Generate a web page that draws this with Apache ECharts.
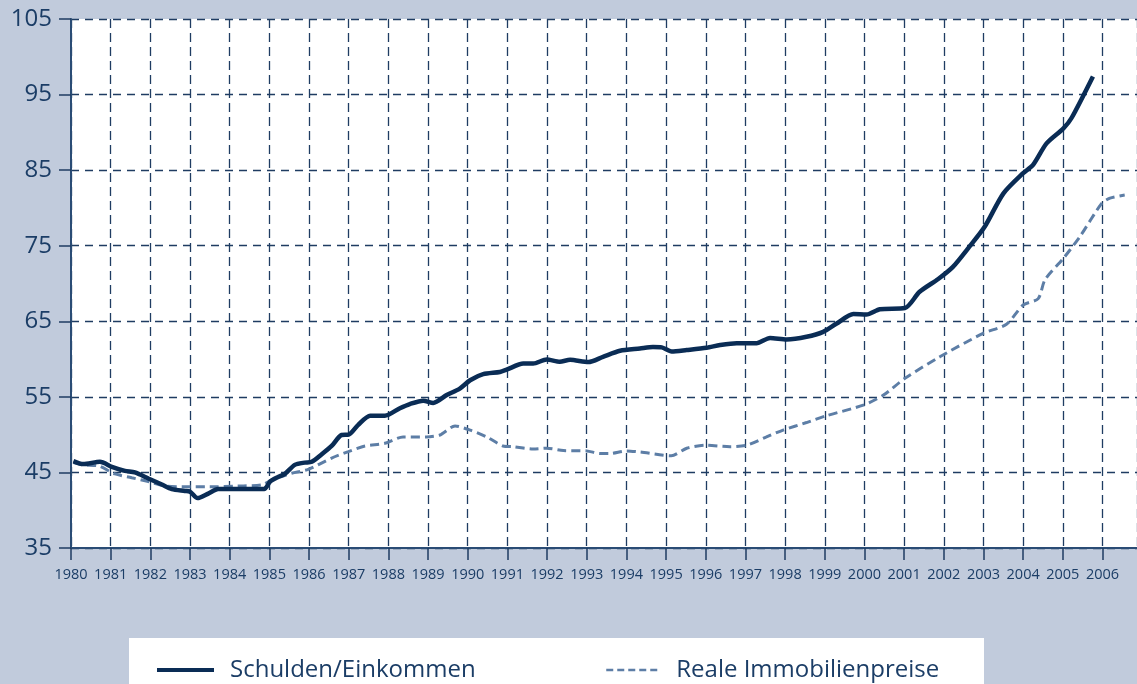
<!DOCTYPE html>
<html>
<head>
<meta charset="utf-8">
<script src="https://cdn.jsdelivr.net/npm/echarts@6/dist/echarts.min.js"></script>
<style>
html, body { margin: 0; padding: 0; background: #c1cbdc; }
#chart { width: 1137px; height: 684px; }
</style>
</head>
<body>
<div id="chart"></div>
<script>
// Schulden/Einkommen
var debtYears = [1980.06, 1980.31, 1980.73, 1981.03, 1981.36, 1981.61, 1981.95, 1982.29, 1982.54, 1982.87,
	1983.0, 1983.19, 1983.46, 1983.71, 1984.05, 1984.55, 1984.87, 1985.02, 1985.22, 1985.39,
	1985.64, 1985.89, 1986.07, 1986.32, 1986.57, 1986.82, 1987.0, 1987.24, 1987.54, 1987.91,
	1988.29, 1988.54, 1988.88, 1989.13, 1989.47, 1989.8, 1990.06, 1990.39, 1990.81, 1990.98,
	1991.4, 1991.65, 1991.99, 1992.32, 1992.58, 1993.04, 1993.41, 1993.84, 1994.34, 1994.67,
	1994.89, 1995.14, 1995.52, 1996.02, 1996.36, 1996.78, 1997.28, 1997.62, 1998.04, 1998.54,
	1998.96, 1999.3, 1999.72, 2000.05, 2000.39, 2001.02, 2001.39, 2001.86, 2002.23, 2002.65,
	2003.03, 2003.5, 2004.0, 2004.25, 2004.59, 2005.01, 2005.22, 2005.76];
var debtValues = [46.5, 46.1, 46.4, 45.75, 45.2, 45.0, 44.2, 43.4, 42.8, 42.55,
	42.45, 41.6, 42.2, 42.8, 42.8, 42.8, 42.8, 43.8, 44.4, 44.8,
	46.0, 46.3, 46.4, 47.4, 48.5, 49.95, 50.0, 51.3, 52.5, 52.5,
	53.5, 54.05, 54.5, 54.2, 55.25, 56.1, 57.2, 58.0, 58.3, 58.6,
	59.4, 59.4, 59.95, 59.65, 59.9, 59.6, 60.3, 61.1, 61.4, 61.6,
	61.55, 61.0, 61.2, 61.5, 61.85, 62.1, 62.1, 62.8, 62.6, 62.95,
	63.6, 64.7, 65.95, 65.9, 66.6, 66.75, 68.9, 70.6, 72.2, 74.9,
	77.5, 81.9, 84.6, 85.7, 88.55, 90.5, 91.9, 97.4];

// Reale Immobilienpreise
var priceYears = [1980.06, 1980.31, 1980.7, 1981.11, 1981.53, 1981.95, 1982.37, 1982.79, 1983.5, 1984.2,
	1984.81, 1985.06, 1985.56, 1985.98, 1986.57, 1986.99, 1987.41, 1987.91, 1988.37, 1988.96,
	1989.3, 1989.68, 1990.06, 1990.48, 1990.89, 1991.15, 1991.65, 1991.99, 1992.41, 1993.0,
	1993.33, 1993.58, 1994.0, 1994.34, 1995.13, 1995.52, 1995.98, 1996.61, 1997.03, 1997.53,
	1997.95, 1998.54, 1999.04, 1999.97, 2000.47, 2001.02, 2001.9, 2002.99, 2003.58, 2004.0,
	2004.38, 2004.55, 2005.01, 2005.43, 2005.98, 2006.19, 2006.56];
var priceValues = [46.3, 46.0, 45.85, 44.8, 44.3, 43.8, 43.2, 43.1, 43.1, 43.2,
	43.35, 44.0, 44.9, 45.4, 46.9, 47.75, 48.5, 48.85, 49.7, 49.7,
	49.95, 51.15, 50.6, 49.7, 48.5, 48.4, 48.1, 48.2, 47.9, 47.85,
	47.5, 47.5, 47.85, 47.7, 47.2, 48.2, 48.6, 48.4, 48.6, 49.7,
	50.6, 51.6, 52.5, 53.9, 55.2, 57.45, 60.3, 63.4, 64.6, 67.15,
	68.0, 70.5, 73.3, 76.2, 80.6, 81.3, 81.7];

var yTicks = { min: 35, max: 105, step: 10 };
var xTicks = { min: 1980, max: 2006.87, step: 1 };

function zip(xs, ys) {
	var out = [];
	for (var i = 0; i < xs.length; i++) out.push([xs[i], ys[i]]);
	return out;
}

var textColor = '#1b3d66';
var gridColor = '#1f3c62';
var font = 'Open Sans';

var myChart = echarts.init(document.getElementById('chart'));

option = {
	backgroundColor: '#c1cbdc',
	animation: false,
	textStyle: { fontFamily: font },
	grid: {
		left: 71,
		top: 19,
		right: 0,
		bottom: 136,
		show: true,
		backgroundColor: '#ffffff',
		borderWidth: 0
	},
	graphic: [{
		type: 'rect',
		z: -10,
		shape: { x: 129, y: 638, width: 855, height: 60 },
		style: { fill: '#ffffff' }
	}],
	legend: [{
		data: ['Schulden/Einkommen'],
		left: 150,
		top: 653,
		itemWidth: 57,
		itemHeight: 24,
		z: 20,
		itemStyle: { opacity: 0 },
		lineStyle: { width: 4 },
		textStyle: { fontSize: 24, color: textColor, fontFamily: font, padding: [0, 0, 0, 11] }
	}, {
		data: ['Reale Immobilienpreise'],
		left: 600,
		top: 653,
		itemWidth: 55,
		itemHeight: 24,
		z: 20,
		itemStyle: { opacity: 0 },
		lineStyle: { width: 2.5, type: [7, 4] },
		textStyle: { fontSize: 24, color: textColor, fontFamily: font, padding: [0, 0, 0, 10] }
	}],
	xAxis: {
		type: 'value',
		min: xTicks.min,
		max: xTicks.max,
		interval: xTicks.step,
		axisLine: { lineStyle: { color: '#2a4c75', width: 2 } },
		axisTick: { show: true, length: 12, lineStyle: { color: '#1f3c62', width: 1.5 } },
		axisLabel: {
			color: textColor,
			fontSize: 14.5,
			margin: 19,
			showMaxLabel: false,
			formatter: function(v) { return v % 1 === 0 ? String(v) : ''; }
		},
		splitLine: { show: true, lineStyle: { color: gridColor, width: 1.3, type: [9, 5] } }
	},
	yAxis: {
		type: 'value',
		min: yTicks.min,
		max: yTicks.max,
		interval: yTicks.step,
		axisLine: { show: true, lineStyle: { color: '#2a4c75', width: 2 } },
		axisTick: { show: true, length: 12, lineStyle: { color: '#1f3c62', width: 1.5 } },
		axisLabel: { color: textColor, fontSize: 24, margin: 19 },
		splitLine: { show: true, lineStyle: { color: gridColor, width: 1.3, type: [8, 6] } }
	},
	series: [{
		name: 'Schulden/Einkommen',
		type: 'line',
		symbol: 'none',
		smooth: 0.25,
		data: zip(debtYears, debtValues),
		lineStyle: { color: '#0a2c55', width: 4.5 },
		itemStyle: { color: '#0a2c55' },
		z: 5
	}, {
		name: 'Reale Immobilienpreise',
		type: 'line',
		symbol: 'none',
		smooth: 0.25,
		data: zip(priceYears, priceValues),
		lineStyle: { color: '#5d7ea6', width: 3, type: [9, 5] },
		itemStyle: { color: '#5d7ea6' },
		z: 4
	}]
};

myChart.setOption(option);
</script>
</body>
</html>
